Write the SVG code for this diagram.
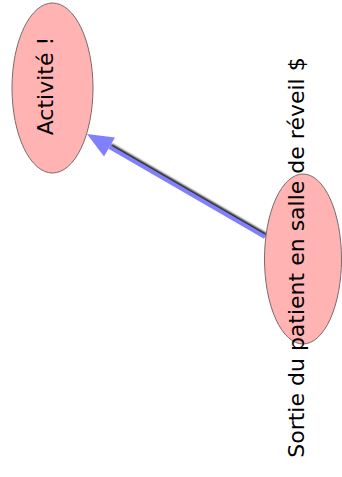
<svg xmlns="http://www.w3.org/2000/svg" width="342" height="477" viewBox="0 0 342 477">
<style>
.node{fill:#ffb3b3;stroke:#7a6a6a;stroke-width:1}
.lbl{font-family:"DejaVu Sans",sans-serif;font-size:22px;fill:#000;text-anchor:middle}
.edge{stroke:#8080ff;stroke-width:4;fill:none}
.shadow{stroke:#000;stroke-width:3;fill:none}
</style>
<defs>
<filter id="blur" x="-10%" y="-10%" width="120%" height="120%"><feGaussianBlur stdDeviation="0.8"/></filter>
</defs>
<rect width="342" height="477" fill="#fff"/>
<g id="connectors">
<g filter="url(#blur)" transform="translate(1.5,-2)">
<line class="shadow" x1="265" y1="237" x2="109.5" y2="147"/>
</g>
<line class="edge" x1="265" y1="237" x2="109.5" y2="147"/>
<polygon points="87,134 115,137.5 104,156.5" fill="#8080ff"/>
</g>
<g id="node-activite">
<ellipse class="node" cx="52.5" cy="88" rx="40.5" ry="85"/>
<text class="lbl" x="53" y="86" transform="rotate(-90 53 86)">Activité !</text>
</g>
<g id="node-sortie">
<ellipse class="node" cx="303" cy="259" rx="38.5" ry="85"/>
<text class="lbl" x="304" y="257.5" transform="rotate(-90 304 257.5)">Sortie du patient en salle de réveil $</text>
</g>
</svg>
